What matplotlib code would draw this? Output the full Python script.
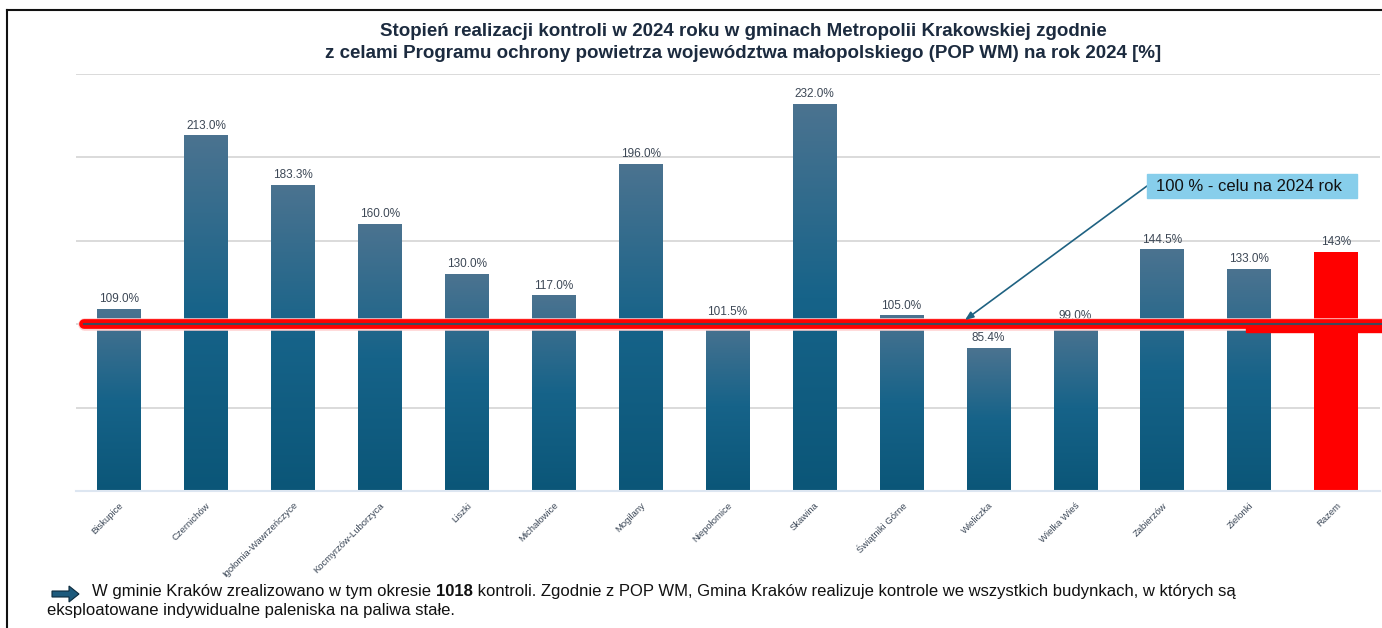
import numpy as np
import matplotlib
matplotlib.use("Agg")
import matplotlib.pyplot as plt
from matplotlib.colors import LinearSegmentedColormap
from matplotlib.patches import Rectangle, Polygon
from matplotlib.lines import Line2D
import matplotlib.patheffects as pe

plt.rcParams['font.family'] = ['Liberation Sans', 'DejaVu Sans']

# Dane: stopien realizacji kontroli [%]
gminy = ["Biskupice", "Czernichów", "Igołomia-Wawrzeńczyce", "Kocmyrzów-Luborzyca",
         "Liszki", "Michałowice", "Mogilany", "Niepołomice", "Skawina",
         "Świątniki Górne", "Wieliczka", "Wielka Wieś", "Zabierzów", "Zielonki",
         "Razem"]
realizacja = [109.0, 213.0, 183.3, 160.0, 130.0, 117.0, 196.0, 101.5, 232.0,
              105.0, 85.4, 99.0, 144.5, 133.0, 143.0]
etykiety = ["109.0%", "213.0%", "183.3%", "160.0%", "130.0%", "117.0%", "196.0%",
            "101.5%", "232.0%", "105.0%", "85.4%", "99.0%", "144.5%", "133.0%",
            "143%"]
cel = 100

W, H = 1382, 628
fig = plt.figure(figsize=(W / 100, H / 100), dpi=100)

def fx(px):
    return px / W

def fy(py):
    return 1 - py / H

ax = fig.add_axes([fx(75.5), fy(491), (1379.5 - 75.5) / W, (491 - 74) / H])
ax.set_xlim(-0.5, len(gminy) - 0.5)
ax.set_ylim(0, 250)

grad_cmap = LinearSegmentedColormap.from_list(
    "bars", [(0, "#4b7390"), (0.5, "#166389"), (1, "#0b5678")])
grad = np.linspace(0, 1, 256).reshape(-1, 1)

xs = np.arange(len(gminy))
bw = 0.5
for i, (x, v) in enumerate(zip(xs, realizacja)):
    if gminy[i] == "Razem":
        ax.bar(x, v, width=bw, color="#ff0000", zorder=2)
    else:
        ax.imshow(grad, cmap=grad_cmap, aspect="auto", origin="upper",
                  extent=[x - bw / 2, x + bw / 2, 0, v], zorder=2)
    ax.annotate(etykiety[i], (x, v), xytext=(0, 3), textcoords="offset points",
                ha="center", va="bottom", fontsize=8.5, color="#3d4856", zorder=5)

ax.set_xlim(-0.5, len(gminy) - 0.5)
ax.set_ylim(0, 250)

# siatka
ax.set_yticks([0, 50, 100, 150, 200, 250])
ax.yaxis.grid(True, color="#d4d4d4", lw=1.2)
ax.set_axisbelow(True)
ax.tick_params(axis="y", length=0, labelleft=False)
for s in ["top", "right", "left"]:
    ax.spines[s].set_visible(False)
ax.spines["bottom"].set_color("#dde6f1")
ax.spines["bottom"].set_linewidth(1.5)

ax.set_xticks(xs)
ax.set_xticklabels(gminy, rotation=45, ha="right", rotation_mode="anchor",
                   fontsize=6.8, color="#3a4656")
ax.tick_params(axis="x", length=0, pad=7)

# linia celu 100 %
x0 = (80 - 75.5) / 86.93 - 0.5
x1 = (1395 - 75.5) / 86.93 - 0.5
ax.plot([x0 + 0.05, x1], [cel, cel], color="#ff0000", lw=7, solid_capstyle="round",
        clip_on=False, zorder=6,
        path_effects=[pe.withStroke(linewidth=9, foreground="#ffd0d0")])
ax.plot([x0 + 0.05, x1], [cel, cel], color="#3e4a5c", lw=1.5, clip_on=False, zorder=7)
xr = (1246 - 75.5) / 86.93 - 0.5
ax.add_patch(Rectangle((xr, 95.6), x1 - xr, cel - 95.6, color="#ff0000",
                       clip_on=False, zorder=6))

# tytul
fig.text(fx(743), fy(32), "Stopień realizacji kontroli w 2024 roku w gminach Metropolii Krakowskiej zgodnie",
         ha="center", va="center", fontsize=13.5, fontweight="bold", color="#1c2b3f")
fig.text(fx(743), fy(53), "z celami Programu ochrony powietrza województwa małopolskiego (POP WM) na rok 2024 [%]",
         ha="center", va="center", fontsize=13.5, fontweight="bold", color="#1c2b3f")

# adnotacja
fig.patches.append(Rectangle((fx(1147), fy(198)), fx(1357) - fx(1147), fy(174) - fy(198),
                             transform=fig.transFigure, color="#87ceeb", zorder=5))
fig.text(fx(1249), fy(186.5), "100 % - celu na 2024 rok", ha="center", va="center",
         fontsize=12, color="#111111", zorder=6)
ax.annotate("", xy=(965, H - 320), xycoords="figure pixels",
            xytext=(1147, H - 186), textcoords="figure pixels",
            arrowprops=dict(arrowstyle="-|>,head_length=0.5,head_width=0.2",
                            color="#1f6282", lw=1.2, shrinkA=0, shrinkB=0),
            zorder=8)

# ramka
fig.add_artist(Line2D([fx(7), 1], [fy(10), fy(10)], color="#111111", lw=1.5,
                      transform=fig.transFigure))
fig.add_artist(Line2D([fx(7), fx(7)], [fy(10), 0], color="#111111", lw=1.5,
                      transform=fig.transFigure))

# strzalka i opis
arr = [(52, 591), (69, 591), (69, 586), (79, 594), (69, 602), (69, 597), (52, 597)]
fig.patches.append(Polygon([(fx(a), fy(b)) for a, b in arr], closed=True,
                           transform=fig.transFigure, facecolor="#1d5a7c",
                           edgecolor="#0d2b3d", lw=0.8))

fig.canvas.draw()
r = fig.canvas.get_renderer()
t1 = fig.text(fx(92), fy(596), "W gminie Kraków zrealizowano w tym okresie ",
              fontsize=12, color="#111111", va="baseline")
e = t1.get_window_extent(r)
t2 = fig.text(e.x1 / W, fy(596), "1018", fontsize=12, fontweight="bold",
              color="#111111", va="baseline")
e = t2.get_window_extent(r)
fig.text(e.x1 / W, fy(596),
         " kontroli. Zgodnie z POP WM, Gmina Kraków realizuje kontrole we wszystkich budynkach, w których są",
         fontsize=12, color="#111111", va="baseline")
fig.text(fx(47), fy(615), "eksploatowane indywidualne paleniska na paliwa stałe.",
         fontsize=12, color="#111111", va="baseline")

fig.savefig("out.png", dpi=100)
